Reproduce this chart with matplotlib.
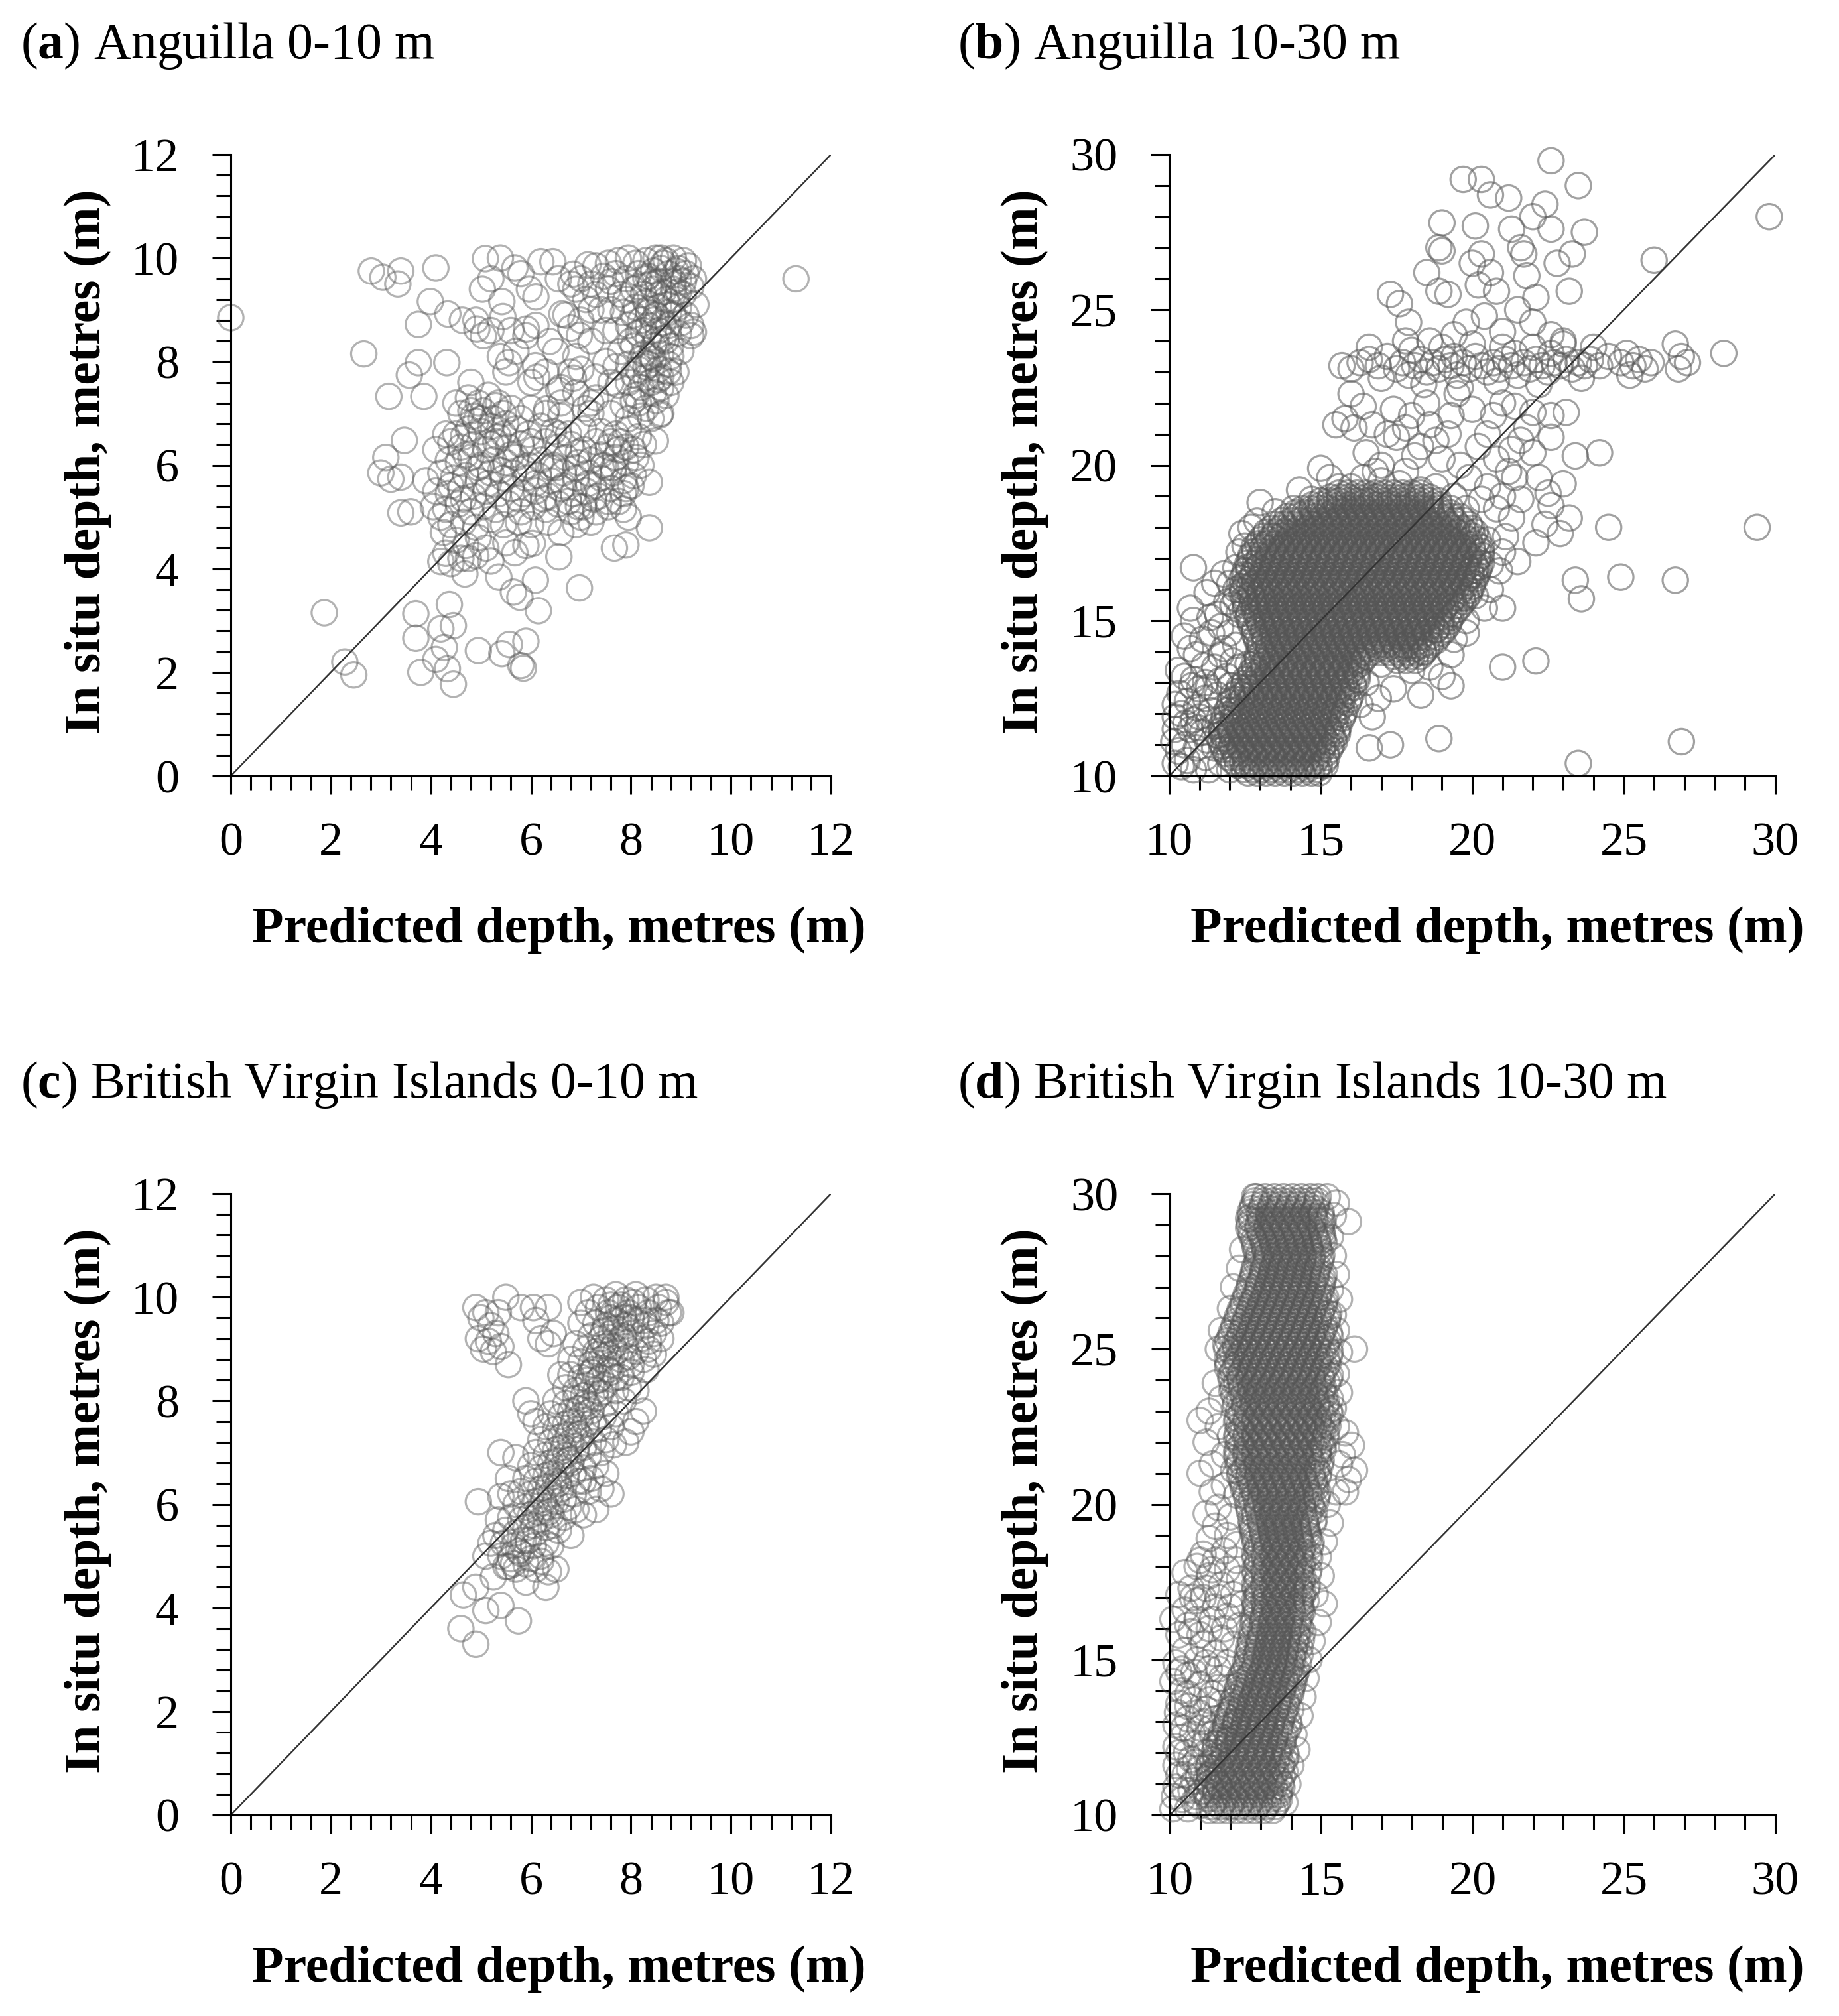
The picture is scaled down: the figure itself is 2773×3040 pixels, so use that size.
import numpy as np
import matplotlib
matplotlib.use("Agg")
import matplotlib.pyplot as plt
from matplotlib.ticker import MultipleLocator

plt.rcParams['font.family'] = ['Liberation Serif', 'DejaVu Serif']
plt.rcParams['mathtext.fontset'] = 'custom'
plt.rcParams['mathtext.rm'] = 'Liberation Serif'
plt.rcParams['mathtext.bf'] = 'Liberation Serif:bold'

# ---------------- data ----------------
TITLES = [r"($\mathbf{a}$) Anguilla 0-10 m", r"($\mathbf{b}$) Anguilla 10-30 m",
          r"($\mathbf{c}$) British Virgin Islands 0-10 m", r"($\mathbf{d}$) British Virgin Islands 10-30 m"]
XLABEL = "Predicted depth, metres (m)"
YLABEL = "In situ depth, metres (m)"
SHALLOW_TICKS = [0, 2, 4, 6, 8, 10, 12]
DEEP_TICKS = [10, 15, 20, 25, 30]

# Panel (a): Anguilla 0-10 m  (predicted, in situ)
A_POINTS = [
 (0.0,8.85),(11.3,9.6),(1.87,3.15),(2.28,2.2),(2.46,1.95),(2.66,8.15),(2.81,9.75),(3.04,9.63),(3.34,9.5),(3.4,9.75),
 (3.16,7.33),(3.57,7.74),(3.75,7.98),(3.86,7.33),(3.75,8.72),(4.1,9.81),(3.99,9.16),(4.32,7.98),(4.34,8.92),(4.63,8.8),
 (4.92,8.63),(5.05,8.5),(3.1,6.15),(3.0,5.85),(3.2,5.73),(3.4,5.77),(3.47,6.48),(3.4,5.08),(3.6,5.1),(3.7,3.13),
 (3.7,2.66),(3.8,2.0),(4.2,2.84),(4.27,2.48),(4.1,2.25),(4.33,2.07),(4.45,1.77),(4.37,3.31),(4.45,2.9),(4.95,2.42),
 (5.42,2.36),(5.57,2.54),(5.9,2.6),(5.8,2.13),(5.85,2.08),(5.36,3.84),(5.65,3.55),(5.78,3.45),(6.09,3.78),(6.15,3.19),
 (6.97,3.63),(6.03,4.49),(6.56,4.23),(5.68,4.31),(7.67,4.4),(7.9,4.46),(8.37,4.79),(8.37,5.67),(9.25,8.57),(8.58,6.97),
 (8.49,6.47),(4.2,4.14),(4.4,4.1),(4.68,3.9),(4.75,4.2),
 (5.09,9.99),(5.39,10.0),(5.2,9.6),(5.03,9.4),(5.42,9.16),(5.44,8.87),(5.6,8.6),(5.68,9.81),(5.8,9.7),(5.97,9.4),
 (6.1,9.25),(6.2,9.93),(6.44,9.93),(6.55,9.6),(5.91,8.63),(5.39,8.1),(5.56,7.98),(5.5,7.8),(6.09,7.92),(6.12,7.7),
 (6.38,8.39),(6.62,8.92),(6.8,8.65),(6.97,8.51),(6.85,7.68),(7.0,7.85),(6.56,7.45),(7.08,7.09),(7.2,7.2),(6.32,7.09),
 (6.85,9.69),(7.14,9.87),(5.2,8.6),(4.9,8.8),(5.7,8.2),(5.9,8.5),(6.1,8.7),(6.0,7.6),(6.3,7.8),(6.5,8.2),
 (6.6,7.5),(6.8,7.8),(6.9,8.1),(7.2,8.4),(7.3,7.7),(7.5,8.0),(7.6,7.6),(7.2,9.0),(7.0,8.8),(6.7,8.9),(7.5,8.6),
 # upper-right cluster
 (7.3,9.85),(7.55,9.9),(7.75,9.95),(7.95,10.0),(8.1,9.9),(8.3,9.95),(8.5,10.0),(8.7,9.95),(8.85,10.0),(9.05,9.95),
 (9.15,9.85),(8.95,9.8),(8.6,9.8),(7.0,9.6),(7.2,9.5),(7.45,9.65),(7.7,9.7),(7.9,9.6),(8.15,9.7),(8.35,9.65),
 (8.55,9.55),(8.75,9.7),(8.95,9.6),(9.1,9.7),(9.25,9.6),(8.45,9.75),(7.3,9.3),(7.55,9.4),(7.8,9.3),(8.05,9.4),
 (8.25,9.3),(8.45,9.4),(8.65,9.35),(8.85,9.4),(9.05,9.3),(9.2,9.45),(8.7,9.2),(8.3,9.15),(7.6,9.0),(7.85,8.95),
 (8.1,9.05),(8.35,8.95),(8.55,9.05),(8.75,8.95),(8.95,9.05),(9.1,8.9),(8.2,8.8),(8.45,8.8),(7.7,8.6),(7.95,8.7),
 (8.15,8.55),(8.35,8.7),(8.55,8.6),(8.75,8.7),(8.95,8.55),(9.2,8.5),(8.0,8.4),(7.8,8.2),(8.05,8.3),(8.25,8.15),
 (8.45,8.3),(8.6,8.15),(8.8,8.3),(9.0,8.2),(8.35,8.45),(8.65,8.45),(7.7,7.9),(7.95,7.95),(8.15,7.85),(8.35,7.95),
 (8.55,7.85),(8.75,7.95),(8.9,7.8),(8.45,8.05),(8.2,8.05),(7.75,7.55),(7.95,7.6),(8.2,7.5),(8.4,7.6),(8.6,7.5),
 (8.8,7.6),(8.3,7.7),(8.05,7.75),(7.85,7.15),(8.05,7.25),(8.3,7.1),(8.5,7.25),(8.6,7.0),(8.2,6.95),(7.95,6.9),
 (8.7,7.35),(9.3,9.1),(9.2,8.7),(9.0,8.75),(8.85,8.9),(7.6,9.55),(7.4,9.0),(7.1,9.2),(6.9,9.4),(6.8,9.5),
 (8.65,9.9),(8.4,9.5),(8.9,9.2),(8.5,8.9),(8.7,8.4),(8.4,8.1),(8.6,7.7),(8.1,7.35),(8.45,7.4),(8.85,9.55),
 (8.3,9.6),(8.55,9.3),(8.75,9.1),(8.95,9.35),(8.4,9.0),(8.65,8.75),(8.25,8.6),(8.5,8.4),(8.8,8.1),(8.3,7.9),
 (8.55,7.65),(8.75,7.8),(8.15,7.2),(8.4,6.9),(8.05,8.9),(8.9,9.75),(9.05,9.55),(8.6,10.0),(8.15,9.45),(7.9,9.2),
 # middle cluster
 (4.75,7.3),(4.95,7.2),(5.15,7.35),(5.3,7.15),(4.6,7.0),(4.85,6.95),(5.05,7.05),(5.25,6.9),(5.45,7.0),(6.0,7.1),
 (6.3,7.0),(6.6,6.95),(7.2,7.0),(4.5,6.6),(4.75,6.7),(5.0,6.65),(5.2,6.75),(5.45,6.6),(5.7,6.7),(5.95,6.6),
 (6.2,6.75),(6.45,6.65),(6.75,6.6),(7.05,6.7),(7.4,6.65),(7.7,6.6),(7.95,6.7),(8.15,6.55),(4.4,6.45),(4.6,6.35),
 (4.85,6.4),(5.1,6.3),(5.3,6.45),(5.55,6.35),(5.8,6.4),(6.05,6.3),(6.3,6.45),(6.55,6.35),(6.8,6.4),(7.05,6.3),
 (7.3,6.45),(7.55,6.35),(7.8,6.45),(8.05,6.3),(8.25,6.4),(4.35,6.1),(4.55,6.05),(4.8,6.15),(5.0,6.0),(5.25,6.1),
 (5.5,6.05),(5.7,6.15),(5.95,6.0),(6.2,6.1),(6.45,6.0),(6.7,6.15),(6.95,6.05),(7.2,6.1),(7.45,6.0),(7.7,6.15),
 (7.9,6.05),(8.1,6.15),(4.2,5.85),(4.45,5.75),(4.7,5.8),(4.95,5.7),(5.2,5.85),(5.45,5.75),(5.65,5.85),(5.9,5.75),
 (6.15,5.8),(6.4,5.7),(6.65,5.85),(6.9,5.75),(7.15,5.85),(7.4,5.75),(7.65,5.85),(7.85,5.7),(8.05,5.8),(8.2,6.0),
 (4.1,5.5),(4.35,5.45),(4.6,5.55),(4.85,5.4),(5.1,5.5),(5.35,5.45),(5.6,5.55),(5.85,5.45),(6.1,5.5),(6.35,5.4),
 (6.6,5.55),(6.85,5.45),(7.1,5.5),(7.35,5.4),(7.6,5.55),(7.85,5.45),(8.0,5.6),(4.05,5.2),(4.3,5.15),(4.55,5.25),
 (4.8,5.1),(5.05,5.2),(5.3,5.15),(5.55,5.25),(5.8,5.1),(6.05,5.2),(6.3,5.15),(6.55,5.25),(6.8,5.1),(7.05,5.2),
 (7.3,5.1),(7.55,5.2),(7.85,5.15),(7.95,5.0),(4.4,4.85),(4.65,4.9),(4.9,4.8),(5.2,4.95),(5.45,4.85),(5.75,4.9),
 (6.0,4.85),(6.35,4.9),(6.9,4.85),(7.2,4.9),(7.0,5.0),(4.5,4.55),(4.7,4.45),(4.95,4.6),(5.1,4.4),(5.5,4.5),
 (5.9,4.45),(6.6,4.7),(4.3,4.3),(4.6,4.2),(4.9,4.25),(5.2,4.15),(3.9,5.7),(4.1,6.3),(4.3,6.6),(4.5,7.2),
 (4.8,7.6),(5.6,7.1),(5.8,6.9),(6.6,7.2),(6.9,7.4),(7.3,7.3),(7.6,7.0),(4.2,5.0),(4.25,4.7),
 (7.5,5.95),(7.75,6.3),(7.25,5.6),(6.95,6.25),(7.55,5.3),(6.5,5.95),(5.35,6.55),(4.9,6.85),(4.7,6.2),(5.15,5.65),
 (5.6,6.2),(5.85,5.95),(6.1,5.65),(6.4,5.95),(6.65,5.6),(6.9,5.95),(7.15,5.65),(7.4,6.2),(7.65,5.95),(7.9,5.55),
 (5.4,5.9),(5.2,6.4),(5.0,6.9),(4.8,7.05),(5.35,7.2),(4.65,6.55),(4.95,5.95),(5.75,5.35),(6.25,5.35),(6.75,5.3),
 (7.25,5.35),(7.75,5.3),(6.0,6.45),(6.55,6.6),(7.6,6.45),(7.9,6.35),(4.4,5.6),(4.65,5.35),(5.5,6.8),(6.95,5.2),
]

# Panel (b): Anguilla 10-30 m, scattered points
B_POINTS = [
 (29.8,28.0),(22.6,29.8),(23.5,29.0),(19.7,29.2),(20.3,29.2),(20.6,28.7),(21.2,28.6),(22.4,28.4),(22.0,28.0),(22.6,27.6),
 (23.7,27.5),(19.0,27.8),(18.9,27.0),(19.0,26.9),(20.1,27.7),(20.3,26.8),(21.3,27.6),(21.6,27.0),(21.7,26.8),(22.8,26.5),
 (23.3,26.8),(18.5,26.2),(19.2,25.5),(18.9,25.6),(20.2,25.8),(20.6,26.2),(20.8,25.6),(21.5,25.0),(22.1,25.4),(23.2,25.6),
 (26.0,26.6),(17.3,25.5),(17.9,24.6),(17.6,25.2),(17.8,24.0),(16.6,23.8),(19.8,24.6),(20.4,24.8),(21.0,24.3),(22.0,24.6),
 (22.6,24.2),(23.0,24.0),(19.4,24.2),(18.6,24.0),(21.8,26.1),(20.0,26.5),
 (15.7,23.2),(16.0,23.1),(16.3,23.3),(16.6,23.4),(16.9,23.2),(17.2,23.5),(17.5,23.1),(17.7,23.3),(17.9,22.9),(18.1,23.2),
 (18.3,23.4),(18.5,23.0),(18.7,23.3),(18.9,23.1),(19.1,23.4),(19.3,23.2),(19.5,22.9),(19.7,23.3),(19.9,23.1),(20.1,23.5),
 (20.3,23.2),(20.5,23.0),(20.7,23.3),(20.9,23.1),(21.1,23.4),(21.3,23.2),(21.5,22.9),(21.7,23.3),(21.9,23.1),(22.1,23.4),
 (22.3,23.2),(22.5,23.0),(22.7,23.3),(22.9,23.2),(23.1,23.4),(23.3,23.1),(23.5,23.3),(23.7,23.2),(23.9,23.4),(24.2,23.2),
 (24.5,23.5),(24.9,23.3),(25.1,23.6),(25.3,23.2),(25.5,23.4),(25.7,23.1),(25.9,23.3),(26.7,23.9),(26.9,23.5),(27.1,23.3),
 (26.8,23.1),(28.3,23.6),(18.0,23.7),(19.0,23.8),(20.0,23.9),(21.0,23.8),(22.0,23.8),(23.0,23.9),(18.4,22.6),(19.6,22.5),
 (20.8,22.7),(22.2,22.6),(23.6,22.8),(24.0,23.8),(17.0,22.8),(25.2,22.9),(21.4,23.6),(19.4,23.5),(22.6,23.6),
 (15.5,21.3),(15.8,21.5),(16.1,21.2),(16.7,21.3),(17.2,21.0),(17.5,20.9),(17.8,21.2),(18.1,20.3),(18.0,21.6),(18.5,22.0),
 (19.3,21.6),(19.5,22.3),(20.0,21.8),(20.5,21.0),(21.0,22.0),(21.4,21.9),(22.0,21.7),(22.6,21.6),(23.1,21.7),(22.6,20.9),
 (23.4,20.3),(24.2,20.4),(22.0,20.4),(21.2,19.8),(22.5,19.1),(22.6,18.7),(23.2,18.3),(24.5,18.0),(22.9,17.8),(22.1,17.5),
 (21.1,17.7),(29.4,18.0),(24.9,16.4),(26.7,16.3),(23.4,16.3),(23.6,15.7),(21.0,15.4),(20.6,16.0),(20.1,15.8),(19.4,14.4),
 (19.8,15.0),(22.1,13.7),(21.0,13.5),(19.3,12.9),(17.4,12.8),(18.3,12.6),(18.0,13.4),(18.4,14.0),(17.8,14.2),(16.6,10.9),
 (17.3,11.0),(18.9,11.2),(23.5,10.4),(26.9,11.1),(16.3,12.3),(16.7,11.9),(16.5,13.0),(17.0,13.6),(16.9,12.5),
 (16.5,20.4),(17.0,20.0),(17.8,19.8),(18.3,20.6),(18.8,20.8),(19.0,20.2),(19.6,20.0),(20.2,20.6),(20.8,20.2),(21.6,20.8),
 (21.8,21.2),(19.2,21.0),(20.7,21.6),(21.3,20.5),(19.9,19.6),(20.5,19.3),(21.0,19.0),(21.4,19.6),(20.8,18.6),(21.3,18.3),
 (21.6,18.9),(21.0,17.2),(20.9,16.6),(21.5,16.9),(22.2,19.6),(22.4,18.1),(23.0,19.4),(17.4,21.8),(16.4,21.9),(16.0,22.3),
 (18.6,21.3),(19.8,18.6),(20.3,18.9),(20.5,17.6),(20.6,16.8),(20.4,15.4),(19.8,14.6),(19.3,13.9),(18.6,13.5),(18.8,14.7),
 (19.0,13.2),(12.9,18.2),(15.3,19.6),(15.6,19.3),(16.0,19.3),(16.4,19.6),(17.0,19.5),(18.3,19.2),(13.5,18.5),(14.1,18.6),
 (14.7,18.9),(12.5,17.4),(12.2,16.7),(12.0,16.2),(12.1,15.5),(13.0,18.8),(14.3,19.2),(16.8,19.8),(17.6,19.4),(18.8,19.3),
 (19.4,19.0),(15.0,19.9),
 (10.8,16.7),(10.7,15.4),(10.8,15.0),(10.7,14.1),(10.9,13.9),(10.5,14.5),(11.6,15.2),(11.9,15.6),(11.8,14.1),(11.4,14.6),
 (11.5,13.5),(11.9,13.2),(12.2,14.2),(11.2,13.0),(10.2,12.3),(10.2,11.5),(10.5,11.0),(10.8,11.8),(11.2,12.5),(11.5,11.6),
 (10.4,12.0),(10.6,12.4),(10.9,12.2),(11.1,11.4),(11.4,12.1),(10.3,10.8),(10.6,10.5),(10.9,10.9),(11.2,10.6),(11.5,10.9),
 (10.4,10.3),(10.8,10.2),(11.3,10.2),(11.7,10.4),(12.0,10.2),(10.2,11.9),(10.7,11.5),(11.0,11.9),(11.3,11.8),(11.6,12.6),
 (11.0,12.8),(10.5,13.2),(10.3,13.4),(10.8,13.1),(11.7,14.8),(12.3,15.2),(12.6,13.6),(12.3,13.5),(12.0,12.9),(11.5,16.2),
 (12.4,17.8),(12.7,18.0),(11.1,14.4),(10.2,10.4),(12.2,16.0),
 (10.15,11.1),(10.55,11.7),(10.95,11.55),(11.25,11.15),(11.6,11.3),(10.35,12.65),(10.75,12.9),(11.3,12.85),(11.65,13.05),
 (11.15,13.55),(11.7,13.9),(12.1,13.7),(12.0,14.6),(11.35,15.1),(12.2,15.7),(11.8,16.5),(12.3,17.2),(11.25,15.9),
]

# Panel (b): dense core, rows of in-situ depth with predicted depths
B_CORE_Y = [10.1, 10.35, 10.6, 10.85, 11.1, 11.35, 11.6, 11.85, 12.1, 12.35, 12.6, 12.85, 13.1,
            13.35, 13.6, 13.85, 14.1, 14.35, 14.6, 14.85, 15.1, 15.35, 15.6, 15.85, 16.1, 16.35,
            16.6, 16.85, 17.1, 17.35, 17.6, 17.85, 18.1, 18.35, 18.6, 18.85, 19.1]
B_CORE_X = [
 [12.6,12.9,13.2,13.5,13.8,14.1,14.4,14.7,14.95],
 [12.25,12.55,12.85,13.15,13.45,13.75,14.05,14.35,14.65,14.95,15.15],
 [11.95,12.2,12.5,12.8,13.1,13.4,13.7,14.0,14.3,14.6,14.9,15.2],
 [11.8,12.1,12.35,12.65,12.95,13.25,13.55,13.85,14.15,14.45,14.75,15.05,15.3],
 [11.7,11.95,12.25,12.55,12.85,13.15,13.45,13.75,14.05,14.35,14.65,14.95,15.2,15.45],
 [11.75,12.05,12.35,12.65,12.95,13.25,13.55,13.85,14.15,14.45,14.75,15.05,15.35,15.55],
 [11.7,12.0,12.25,12.55,12.85,13.15,13.45,13.75,14.05,14.35,14.65,14.95,15.25,15.6],
 [11.8,12.1,12.4,12.7,13.0,13.3,13.6,13.9,14.2,14.5,14.8,15.1,15.4,15.7],
 [11.9,12.15,12.45,12.75,13.05,13.35,13.65,13.95,14.25,14.55,14.85,15.15,15.45,15.8],
 [12.0,12.3,12.6,12.9,13.2,13.5,13.8,14.1,14.4,14.7,15.0,15.3,15.6,15.9],
 [12.1,12.4,12.7,13.0,13.3,13.6,13.9,14.2,14.5,14.8,15.1,15.4,15.7,16.0],
 [12.3,12.55,12.85,13.15,13.45,13.75,14.05,14.35,14.65,14.95,15.25,15.55,15.85,16.1],
 [12.5,12.8,13.1,13.4,13.7,14.0,14.3,14.6,14.9,15.2,15.5,15.8,16.2],
 [12.7,12.95,13.25,13.55,13.85,14.15,14.45,14.75,15.05,15.35,15.65,15.95,16.2],
 [12.8,13.1,13.4,13.7,14.0,14.3,14.6,14.9,15.2,15.5,15.8,16.05,16.3],
 [12.9,13.2,13.5,13.8,14.1,14.4,14.7,15.0,15.3,15.6,15.9,16.2,16.5,17.4,17.7,18.0,18.3],
 [13.0,13.3,13.6,13.9,14.2,14.5,14.8,15.1,15.4,15.7,16.0,16.3,16.6,16.9,17.2,17.5,17.8,18.1,18.5],
 [12.9,13.15,13.45,13.75,14.05,14.35,14.65,14.95,15.25,15.55,15.85,16.15,16.45,16.75,17.05,17.35,17.65,17.95,18.25,18.8],
 [12.8,13.1,13.4,13.7,14.0,14.3,14.6,14.9,15.2,15.5,15.8,16.1,16.4,16.7,17.0,17.3,17.6,17.9,18.2,18.5,19.0],
 [12.7,13.0,13.25,13.55,13.85,14.15,14.45,14.75,15.05,15.35,15.65,15.95,16.25,16.55,16.85,17.15,17.45,17.75,18.05,18.35,18.65,18.95,19.2],
 [12.6,12.9,13.2,13.5,13.8,14.1,14.4,14.7,15.0,15.3,15.6,15.9,16.2,16.5,16.8,17.1,17.4,17.7,18.0,18.3,18.6,18.9,19.3],
 [12.5,12.8,13.05,13.35,13.65,13.95,14.25,14.55,14.85,15.15,15.45,15.75,16.05,16.35,16.65,16.95,17.25,17.55,17.85,18.15,18.45,18.75,19.05,19.5],
 [12.5,12.75,13.0,13.3,13.6,13.9,14.2,14.5,14.8,15.1,15.4,15.7,16.0,16.3,16.6,16.9,17.2,17.5,17.8,18.1,18.4,18.7,19.0,19.3,19.7],
 [12.4,12.7,12.95,13.25,13.55,13.85,14.15,14.45,14.75,15.05,15.35,15.65,15.95,16.25,16.55,16.85,17.15,17.45,17.75,18.05,18.35,18.65,18.95,19.25,19.55,19.9],
 [12.4,12.65,12.9,13.2,13.5,13.8,14.1,14.4,14.7,15.0,15.3,15.6,15.9,16.2,16.5,16.8,17.1,17.4,17.7,18.0,18.3,18.6,18.9,19.2,19.5,19.75,20.0],
 [12.4,12.7,13.0,13.3,13.6,13.9,14.2,14.5,14.8,15.1,15.4,15.7,16.0,16.3,16.6,16.9,17.2,17.5,17.8,18.1,18.4,18.7,19.0,19.3,19.6,19.85,20.1],
 [12.5,12.8,13.1,13.4,13.7,14.0,14.3,14.6,14.9,15.2,15.5,15.8,16.1,16.4,16.7,17.0,17.3,17.6,17.9,18.2,18.5,18.8,19.1,19.4,19.7,19.95,20.2],
 [12.6,12.85,13.15,13.45,13.75,14.05,14.35,14.65,14.95,15.25,15.55,15.85,16.15,16.45,16.75,17.05,17.35,17.65,17.95,18.25,18.55,18.85,19.15,19.45,19.75,20.05,20.3],
 [12.7,13.0,13.3,13.6,13.9,14.2,14.5,14.8,15.1,15.4,15.7,16.0,16.3,16.6,16.9,17.2,17.5,17.8,18.1,18.4,18.7,19.0,19.3,19.6,19.9,20.3],
 [12.8,13.1,13.4,13.7,14.0,14.3,14.6,14.9,15.2,15.5,15.8,16.1,16.4,16.7,17.0,17.3,17.6,17.9,18.2,18.5,18.8,19.1,19.4,19.7,20.0,20.3],
 [13.0,13.3,13.6,13.9,14.2,14.5,14.8,15.1,15.4,15.7,16.0,16.3,16.6,16.9,17.2,17.5,17.8,18.1,18.4,18.7,19.0,19.3,19.6,19.9,20.2],
 [13.2,13.5,13.8,14.1,14.4,14.7,15.0,15.3,15.6,15.9,16.2,16.5,16.8,17.1,17.4,17.7,18.0,18.3,18.6,18.9,19.2,19.5,19.8,20.1],
 [13.5,13.8,14.1,14.4,14.7,15.0,15.3,15.6,15.9,16.2,16.5,16.8,17.1,17.4,17.7,18.0,18.3,18.6,18.9,19.2,19.5,19.9],
 [13.9,14.2,14.5,14.8,15.1,15.4,15.7,16.0,16.3,16.6,16.9,17.2,17.5,17.8,18.1,18.4,18.7,19.0,19.3,19.6],
 [14.4,14.7,15.0,15.3,15.6,15.9,16.2,16.5,16.8,17.1,17.4,17.7,18.0,18.3,18.6,18.9,19.3],
 [15.0,15.3,15.6,15.9,16.2,16.5,16.8,17.1,17.4,17.7,18.0,18.3,18.6,18.9],
 [15.6,15.9,16.2,16.5,16.8,17.1,17.4,17.7,18.0,18.3],
]
B_CORE2_Y = [10.22, 10.47, 10.72, 10.97, 11.22, 11.47, 11.72, 11.97, 12.22, 12.47, 12.72, 12.97,
             13.22, 13.47, 13.72, 13.97, 14.22, 14.47, 14.72, 14.97, 15.22, 15.47, 15.72, 15.97,
             16.22, 16.47, 16.72, 16.97, 17.22, 17.47, 17.72, 17.97, 18.22, 18.47, 18.72, 18.97]
B_CORE2_X = [
 [12.47,12.77,13.07,13.37,13.67,13.97,14.27,14.57,14.87],
 [12.12,12.42,12.72,13.02,13.32,13.62,13.92,14.22,14.52,14.82,15.12],
 [11.88,12.18,12.48,12.78,13.08,13.38,13.68,13.98,14.28,14.58,14.88,15.18],
 [11.77,12.07,12.37,12.67,12.97,13.27,13.57,13.87,14.17,14.47,14.77,15.07,15.35],
 [11.82,12.12,12.42,12.72,13.02,13.32,13.62,13.92,14.22,14.52,14.82,15.12,15.42],
 [11.72,12.02,12.32,12.62,12.92,13.22,13.52,13.82,14.12,14.42,14.72,15.02,15.32,15.55],
 [11.87,12.17,12.47,12.77,13.07,13.37,13.67,13.97,14.27,14.57,14.87,15.17,15.47],
 [11.92,12.22,12.52,12.82,13.12,13.42,13.72,14.02,14.32,14.62,14.92,15.22,15.52,15.75],
 [12.07,12.37,12.67,12.97,13.27,13.57,13.87,14.17,14.47,14.77,15.07,15.37,15.67],
 [12.12,12.42,12.72,13.02,13.32,13.62,13.92,14.22,14.52,14.82,15.12,15.42,15.72,15.95],
 [12.27,12.57,12.87,13.17,13.47,13.77,14.07,14.37,14.67,14.97,15.27,15.57,15.87],
 [12.47,12.77,13.07,13.37,13.67,13.97,14.27,14.57,14.87,15.17,15.47,15.77,16.07],
 [12.67,12.97,13.27,13.57,13.87,14.17,14.47,14.77,15.07,15.37,15.67,15.97,16.2],
 [12.82,13.12,13.42,13.72,14.02,14.32,14.62,14.92,15.22,15.52,15.82,16.12],
 [12.92,13.22,13.52,13.82,14.12,14.42,14.72,15.02,15.32,15.62,15.92,16.22,16.4,17.52,17.82,18.12],
 [13.07,13.37,13.67,13.97,14.27,14.57,14.87,15.17,15.47,15.77,16.07,16.37,16.67,16.97,17.27,17.57,17.87,18.17,18.4],
 [12.97,13.27,13.57,13.87,14.17,14.47,14.77,15.07,15.37,15.67,15.97,16.27,16.57,16.87,17.17,17.47,17.77,18.07,18.37,18.62],
 [12.87,13.17,13.47,13.77,14.07,14.37,14.67,14.97,15.27,15.57,15.87,16.17,16.47,16.77,17.07,17.37,17.67,17.97,18.27,18.57,18.87],
 [12.82,13.12,13.42,13.72,14.02,14.32,14.62,14.92,15.22,15.52,15.82,16.12,16.42,16.72,17.02,17.32,17.62,17.92,18.22,18.52,18.82,19.1],
 [12.67,12.97,13.27,13.57,13.87,14.17,14.47,14.77,15.07,15.37,15.67,15.97,16.27,16.57,16.87,17.17,17.47,17.77,18.07,18.37,18.67,18.97,19.25],
 [12.62,12.92,13.22,13.52,13.82,14.12,14.42,14.72,15.02,15.32,15.62,15.92,16.22,16.52,16.82,17.12,17.42,17.72,18.02,18.32,18.62,18.92,19.22,19.4],
 [12.52,12.82,13.12,13.42,13.72,14.02,14.32,14.62,14.92,15.22,15.52,15.82,16.12,16.42,16.72,17.02,17.32,17.62,17.92,18.22,18.52,18.82,19.12,19.42,19.6],
 [12.47,12.77,13.07,13.37,13.67,13.97,14.27,14.57,14.87,15.17,15.47,15.77,16.07,16.37,16.67,16.97,17.27,17.57,17.87,18.17,18.47,18.77,19.07,19.37,19.67,19.8],
 [12.42,12.72,13.02,13.32,13.62,13.92,14.22,14.52,14.82,15.12,15.42,15.72,16.02,16.32,16.62,16.92,17.22,17.52,17.82,18.12,18.42,18.72,19.02,19.32,19.62,19.92],
 [12.52,12.82,13.12,13.42,13.72,14.02,14.32,14.62,14.92,15.22,15.52,15.82,16.12,16.42,16.72,17.02,17.32,17.62,17.92,18.22,18.52,18.82,19.12,19.42,19.72,20.02],
 [12.47,12.77,13.07,13.37,13.67,13.97,14.27,14.57,14.87,15.17,15.47,15.77,16.07,16.37,16.67,16.97,17.27,17.57,17.87,18.17,18.47,18.77,19.07,19.37,19.67,19.97,20.15],
 [12.62,12.92,13.22,13.52,13.82,14.12,14.42,14.72,15.02,15.32,15.62,15.92,16.22,16.52,16.82,17.12,17.42,17.72,18.02,18.32,18.62,18.92,19.22,19.52,19.82,20.12,20.25],
 [12.67,12.97,13.27,13.57,13.87,14.17,14.47,14.77,15.07,15.37,15.67,15.97,16.27,16.57,16.87,17.17,17.47,17.77,18.07,18.37,18.67,18.97,19.27,19.57,19.87,20.17],
 [12.82,13.12,13.42,13.72,14.02,14.32,14.62,14.92,15.22,15.52,15.82,16.12,16.42,16.72,17.02,17.32,17.62,17.92,18.22,18.52,18.82,19.12,19.42,19.72,20.02,20.3],
 [12.92,13.22,13.52,13.82,14.12,14.42,14.72,15.02,15.32,15.62,15.92,16.22,16.52,16.82,17.12,17.42,17.72,18.02,18.32,18.62,18.92,19.22,19.52,19.82,20.12],
 [13.12,13.42,13.72,14.02,14.32,14.62,14.92,15.22,15.52,15.82,16.12,16.42,16.72,17.02,17.32,17.62,17.92,18.22,18.52,18.82,19.12,19.42,19.72,20.02],
 [13.37,13.67,13.97,14.27,14.57,14.87,15.17,15.47,15.77,16.07,16.37,16.67,16.97,17.27,17.57,17.87,18.17,18.47,18.77,19.07,19.37,19.67,19.97],
 [13.72,14.02,14.32,14.62,14.92,15.22,15.52,15.82,16.12,16.42,16.72,17.02,17.32,17.62,17.92,18.22,18.52,18.82,19.12,19.42,19.72],
 [14.17,14.47,14.77,15.07,15.37,15.67,15.97,16.27,16.57,16.87,17.17,17.47,17.77,18.07,18.37,18.67,18.97,19.27],
 [14.72,15.02,15.32,15.62,15.92,16.22,16.52,16.82,17.12,17.42,17.72,18.02,18.32,18.62,18.92],
 [15.32,15.62,15.92,16.22,16.52,16.82,17.12,17.42,17.72,18.02,18.32,18.6],
]

# Panel (c): British Virgin Islands 0-10 m
C_POINTS = [
 (7.0,9.9),(7.25,10.0),(7.5,9.95),(7.7,10.05),(7.9,9.95),(8.1,10.05),(8.3,9.95),(8.5,10.0),(8.7,9.9),
 (7.15,9.7),(7.35,9.8),(7.55,9.7),(7.75,9.8),(7.95,9.7),(8.15,9.8),(8.35,9.7),(8.55,9.8),(8.8,9.7),
 (7.3,9.5),(7.5,9.45),(7.7,9.55),(7.9,9.45),(8.1,9.55),(8.3,9.45),(8.5,9.55),
 (7.2,9.25),(7.4,9.2),(7.6,9.3),(7.8,9.2),(8.0,9.3),(8.2,9.2),(8.45,9.3),
 (7.1,9.0),(7.3,8.95),(7.5,9.05),(7.7,8.95),(7.9,9.05),(8.1,8.95),(8.35,9.0),
 (7.0,8.75),(7.2,8.7),(7.4,8.8),(7.6,8.7),(7.8,8.8),(8.0,8.7),(8.25,8.8),
 (6.8,8.5),(7.0,8.45),(7.2,8.55),(7.4,8.45),(7.6,8.55),(7.8,8.45),(8.0,8.55),
 (6.7,8.25),(6.9,8.2),(7.1,8.3),(7.3,8.2),(7.5,8.3),(7.7,8.2),(7.95,8.25),
 (6.5,8.0),(6.7,7.95),(6.9,8.05),(7.1,7.95),(7.3,8.05),(7.5,7.95),(7.85,8.0),
 (6.4,7.75),(6.6,7.7),(6.8,7.8),(7.0,7.7),(7.2,7.8),(7.45,7.7),(7.7,7.75),
 (6.3,7.5),(6.5,7.45),(6.7,7.55),(6.9,7.45),(7.1,7.55),(7.35,7.45),(7.6,7.5),
 (6.2,7.25),(6.4,7.2),(6.6,7.3),(6.8,7.2),(7.0,7.3),(7.25,7.2),(7.5,7.25),
 (6.1,7.0),(6.3,6.95),(6.5,7.05),(6.7,6.95),(6.9,7.05),(7.15,6.95),(7.4,7.0),
 (6.0,6.75),(6.2,6.7),(6.4,6.8),(6.6,6.7),(6.8,6.8),(7.05,6.7),(7.3,6.75),
 (5.9,6.5),(6.1,6.45),(6.3,6.55),(6.5,6.45),(6.7,6.55),(6.95,6.45),(7.2,6.5),
 (5.8,6.25),(6.0,6.2),(6.2,6.3),(6.4,6.2),(6.6,6.3),(6.85,6.2),(7.15,6.25),
 (5.7,6.0),(5.9,5.95),(6.1,6.05),(6.3,5.95),(6.5,6.05),(6.75,5.95),
 (5.6,5.75),(5.8,5.7),(6.0,5.8),(6.2,5.7),(6.4,5.8),(6.65,5.75),
 (5.5,5.5),(5.7,5.45),(5.9,5.55),(6.1,5.45),(6.3,5.55),(6.55,5.5),
 (5.45,5.25),(5.65,5.2),(5.85,5.3),(6.05,5.2),(6.3,5.25),
 (5.4,5.0),(5.6,4.95),(5.8,5.05),(6.0,4.95),(6.2,5.0),
 (5.5,4.8),(5.7,4.75),(5.9,4.85),(6.1,4.75),
 (7.6,9.85),(7.85,9.6),(8.05,9.9),(7.45,9.1),(7.7,9.4),(7.25,8.6),(7.55,8.9),(7.05,8.1),(7.35,8.4),(6.85,7.6),
 (7.15,7.9),(6.65,7.1),(6.95,7.35),(6.45,6.6),(6.75,6.85),(6.25,6.1),(6.55,6.4),(6.05,5.6),(6.35,5.85),(5.75,5.1),
 (7.6,9.6),(7.85,9.25),(8.0,9.6),(7.45,9.35),(7.65,9.05),(7.35,8.9),(7.55,8.6),(7.15,8.4),(7.4,8.15),(6.95,7.85),
 (7.25,7.6),(6.75,7.35),(7.05,7.1),(6.55,6.85),(6.85,6.6),(6.35,6.35),(6.65,6.1),(6.15,5.85),(6.45,5.6),(5.95,5.3),
 (7.8,9.85),(8.25,9.55),(7.95,8.85),(7.7,8.45),
 (4.9,9.8),(5.5,10.0),(5.2,9.45),(5.15,9.15),(5.4,9.05),(5.55,8.7),(5.05,9.0),(5.3,9.3),(6.05,9.8),(6.35,9.8),
 (5.8,9.8),(6.35,9.1),(6.2,9.2),(6.45,9.3),(5.0,9.6),(4.95,9.2),(5.25,8.95),(5.1,9.7),(5.35,9.7),(6.1,9.55),
 (4.6,3.6),(4.9,3.3),(4.65,4.25),(4.9,4.4),(5.1,3.95),(5.4,4.05),(5.75,3.75),(6.3,4.4),(6.5,4.75),(4.95,6.05),
 (5.2,5.25),(6.35,4.7),(5.55,4.8),(5.65,4.85),(7.65,7.15),(7.4,6.3),(7.3,5.9),(7.05,5.8),(7.05,6.45),(8.7,10.0),
 (8.75,9.7),(8.35,9.15),(8.45,8.9),(8.25,7.8),(8.1,7.6),(5.9,8.0),(6.0,7.75),(6.1,7.6),(5.4,7.0),(5.7,6.9),
 (5.55,6.5),(5.4,6.15),(5.6,6.2),(5.35,5.7),(5.3,5.4),(5.1,5.0),(5.25,4.6),(6.4,5.2),(6.8,5.4),(6.9,5.9),
 (7.5,6.6),(7.6,6.2),(8.1,8.2),(8.3,8.6),(8.6,9.2),(8.6,9.5),(6.6,8.5),(6.8,8.8),(6.9,9.1),(7.0,9.5),
 (6.2,4.9),(5.9,4.5),(7.9,7.2),(8.0,7.4),
]

# Panel (d): British Virgin Islands 10-30 m, scattered points
D_POINTS = [
 (10.1,10.2),(10.4,10.5),(10.2,10.9),(10.6,10.2),(10.9,10.6),(10.5,11.3),(10.2,11.6),(10.8,11.1),(11.0,10.3),(10.3,12.0),
 (10.7,11.8),(11.0,11.5),(10.4,12.5),(10.9,12.3),(11.2,12.0),(10.2,12.9),(10.6,13.1),(11.0,12.8),(11.4,12.6),(10.3,13.6),
 (10.1,14.3),(10.4,14.0),(10.8,13.7),(11.2,13.4),(11.5,13.1),(10.6,14.5),(10.2,14.9),(11.0,14.2),(11.4,13.9),(11.7,13.6),
 (10.5,15.3),(10.9,15.0),(11.3,14.7),(11.7,14.4),(12.0,14.1),(10.3,15.8),(10.7,15.9),(11.1,15.5),(11.5,15.2),(11.9,14.9),
 (10.1,16.3),(10.5,16.6),(10.9,16.3),(11.3,16.0),(11.7,15.7),(12.1,15.5),(10.3,17.1),(10.7,17.3),(11.1,17.0),(11.5,16.7),
 (11.9,16.4),(12.3,16.1),(10.5,17.8),(10.9,18.0),(11.3,17.7),(11.7,17.4),(12.1,17.1),(12.4,16.8),(11.1,18.4),(11.5,18.2),
 (11.9,17.9),(12.3,17.6),(10.3,14.6),(10.6,13.9),(11.3,11.3),(11.6,11.0),(10.7,10.8),(11.9,12.4),(12.2,13.0),(11.8,13.2),
 (11.5,12.3),(10.9,16.9),(11.3,18.9),
 (10.15,10.6),(10.5,10.8),(10.8,10.45),(11.05,10.75),(10.3,11.3),(10.65,11.5),(10.95,11.25),(10.2,12.2),(10.55,12.0),
 (10.85,11.7),(11.15,12.3),(10.45,12.8),(10.75,12.6),(11.1,13.0),(11.35,12.8),(10.25,13.3),(10.6,13.5),(10.95,13.3),
 (11.3,13.7),(11.6,14.1),(10.4,14.7),(10.8,14.6),(11.2,14.9),(11.6,14.7),(10.6,16.1),(11.0,15.8),(11.4,16.3),(11.8,16.0),
 (10.75,17.0),(11.2,17.3),(11.6,17.0),(12.0,16.7),(11.0,18.2),(11.4,17.9),(11.8,18.5),(12.2,18.2),
 (11.5,19.3),(11.9,19.0),(12.2,18.7),(11.2,19.7),(11.6,19.9),(12.0,19.6),(11.4,20.4),(11.8,20.6),(12.2,20.3),(11.0,21.0),
 (11.4,21.3),(11.8,21.6),(12.1,21.1),(11.2,22.0),(11.6,22.5),(12.0,22.2),(11.0,22.7),(11.3,23.0),(11.7,23.4),(11.5,23.9),
 (11.9,24.4),(11.6,25.0),(11.7,25.6),(12.0,26.3),(12.1,27.0),(12.3,27.6),(12.4,28.2),(12.6,29.2),(12.8,29.9),
 (15.2,29.9),(15.5,29.7),(15.4,29.3),(15.9,29.1),(15.3,28.6),(15.4,28.0),(15.5,27.4),(15.3,26.9),(15.6,26.6),(15.4,26.1),
 (15.5,25.6),(16.1,25.0),(15.6,24.9),(15.5,24.2),(15.6,23.6),(15.4,23.1),(15.5,22.5),(15.8,22.3),(16.0,21.9),(15.7,21.6),
 (16.1,21.1),(15.9,20.8),(15.5,20.4),(15.2,20.0),(15.3,19.4),(15.1,18.8),(14.9,18.3),(15.0,17.7),(14.8,17.1),(15.1,16.8),
 (14.9,16.2),(14.7,15.6),(14.6,15.0),(14.5,14.4),(14.4,13.8),(14.3,13.2),(14.1,12.6),(14.2,12.1),(14.0,11.6),(13.9,11.0),
 (13.8,10.4),(15.6,21.3),(15.8,20.4),
]

# Panel (d): dense core rows
D_CORE_Y = [10.15, 10.4, 10.65, 10.9, 11.15, 11.4, 11.65, 11.9, 12.15, 12.4, 12.65, 12.9, 13.15, 13.4,
            13.65, 13.9, 14.15, 14.4, 14.65, 14.9, 15.15, 15.4, 15.65, 15.9, 16.15, 16.4, 16.65, 16.9,
            17.15, 17.4, 17.65, 17.9, 18.15, 18.4, 18.65, 18.9, 19.15, 19.4, 19.65, 19.9, 20.15, 20.4,
            20.65, 20.9, 21.15, 21.4, 21.65, 21.9, 22.15, 22.4, 22.65, 22.9, 23.15, 23.4, 23.65, 23.9,
            24.15, 24.4, 24.65, 24.9, 25.15, 25.4, 25.65, 25.9, 26.15, 26.4, 26.65, 26.9, 27.15, 27.4,
            27.65, 27.9, 28.15, 28.4, 28.65, 28.9, 29.15, 29.4, 29.65, 29.9]
D_CORE_X = [
 [11.3,11.6,11.9,12.2,12.5,12.8,13.1,13.4],
 [11.45,11.75,12.05,12.35,12.65,12.95,13.25,13.55],
 [11.2,11.5,11.8,12.1,12.4,12.7,13.0,13.3,13.6],
 [11.35,11.65,11.95,12.25,12.55,12.85,13.15,13.45,13.7],
 [11.2,11.5,11.8,12.1,12.4,12.7,13.0,13.3,13.6],
 [11.4,11.7,12.0,12.3,12.6,12.9,13.2,13.5,13.8],
 [11.3,11.6,11.9,12.2,12.5,12.8,13.1,13.4,13.7],
 [11.5,11.8,12.1,12.4,12.7,13.0,13.3,13.6,13.85],
 [11.5,11.8,12.1,12.4,12.7,13.0,13.3,13.6],
 [11.65,11.95,12.25,12.55,12.85,13.15,13.45,13.75],
 [11.7,12.0,12.3,12.6,12.9,13.2,13.5,13.8],
 [11.85,12.15,12.45,12.75,13.05,13.35,13.65,13.95],
 [11.9,12.2,12.5,12.8,13.1,13.4,13.7],
 [12.0,12.3,12.6,12.9,13.2,13.5,13.8,14.0],
 [12.05,12.35,12.65,12.95,13.25,13.55,13.85],
 [12.2,12.5,12.8,13.1,13.4,13.7,14.0],
 [12.25,12.55,12.85,13.15,13.45,13.75,14.05],
 [12.3,12.6,12.9,13.2,13.5,13.8,14.1],
 [12.45,12.75,13.05,13.35,13.65,13.95,14.2],
 [12.5,12.8,13.1,13.4,13.7,14.0,14.25],
 [12.55,12.85,13.15,13.45,13.75,14.05,14.3],
 [12.6,12.9,13.2,13.5,13.8,14.1,14.3],
 [12.65,12.95,13.25,13.55,13.85,14.15,14.35],
 [12.7,13.0,13.3,13.6,13.9,14.2,14.4],
 [12.75,13.05,13.35,13.65,13.95,14.25],
 [12.8,13.1,13.4,13.7,14.0,14.3],
 [12.85,13.15,13.45,13.75,14.05,14.35],
 [12.8,13.1,13.4,13.7,14.0,14.3,14.5],
 [12.9,13.2,13.5,13.8,14.1,14.4],
 [12.8,13.1,13.4,13.7,14.0,14.3,14.55],
 [12.9,13.2,13.5,13.8,14.1,14.4],
 [12.8,13.1,13.4,13.7,14.0,14.3,14.6],
 [12.9,13.2,13.5,13.8,14.1,14.4],
 [12.8,13.1,13.4,13.7,14.0,14.3,14.6],
 [12.9,13.2,13.5,13.8,14.1,14.4,14.65],
 [12.8,13.1,13.4,13.7,14.0,14.3,14.6],
 [12.75,13.05,13.35,13.65,13.95,14.25,14.55],
 [12.7,13.0,13.3,13.6,13.9,14.2,14.5,14.75],
 [12.8,13.1,13.4,13.7,14.0,14.3,14.6],
 [12.6,12.9,13.2,13.5,13.8,14.1,14.4,14.7],
 [12.7,13.0,13.3,13.6,13.9,14.2,14.5,14.85],
 [12.5,12.8,13.1,13.4,13.7,14.0,14.3,14.6,14.9],
 [12.4,12.7,13.0,13.3,13.6,13.9,14.2,14.5,14.8],
 [12.3,12.6,12.9,13.2,13.5,13.8,14.1,14.4,14.7,14.9],
 [12.45,12.75,13.05,13.35,13.65,13.95,14.25,14.55,14.85],
 [12.3,12.6,12.9,13.2,13.5,13.8,14.1,14.4,14.7,15.0],
 [12.2,12.5,12.8,13.1,13.4,13.7,14.0,14.3,14.6,14.9],
 [12.35,12.65,12.95,13.25,13.55,13.85,14.15,14.45,14.75,15.05],
 [12.2,12.5,12.8,13.1,13.4,13.7,14.0,14.3,14.6,14.9,15.15],
 [12.35,12.65,12.95,13.25,13.55,13.85,14.15,14.45,14.75,15.05],
 [12.2,12.5,12.8,13.1,13.4,13.7,14.0,14.3,14.6,14.9,15.2],
 [12.35,12.65,12.95,13.25,13.55,13.85,14.15,14.45,14.75,15.05,15.3],
 [12.15,12.45,12.75,13.05,13.35,13.65,13.95,14.25,14.55,14.85,15.15],
 [12.3,12.6,12.9,13.2,13.5,13.8,14.1,14.4,14.7,15.0,15.3],
 [12.05,12.35,12.65,12.95,13.25,13.55,13.85,14.15,14.45,14.75,15.05],
 [12.2,12.5,12.8,13.1,13.4,13.7,14.0,14.3,14.6,14.9,15.2],
 [12.0,12.3,12.6,12.9,13.2,13.5,13.8,14.1,14.4,14.7,15.0,15.3],
 [12.15,12.45,12.75,13.05,13.35,13.65,13.95,14.25,14.55,14.85,15.15],
 [11.9,12.2,12.5,12.8,13.1,13.4,13.7,14.0,14.3,14.6,14.9,15.2],
 [12.05,12.35,12.65,12.95,13.25,13.55,13.85,14.15,14.45,14.75,15.05,15.3],
 [11.85,12.15,12.45,12.75,13.05,13.35,13.65,13.95,14.25,14.55,14.85,15.15],
 [12.0,12.3,12.6,12.9,13.2,13.5,13.8,14.1,14.4,14.7,15.0,15.3],
 [12.1,12.4,12.7,13.0,13.3,13.6,13.9,14.2,14.5,14.8,15.1],
 [12.2,12.5,12.8,13.1,13.4,13.7,14.0,14.3,14.6,14.9,15.2],
 [12.3,12.6,12.9,13.2,13.5,13.8,14.1,14.4,14.7,15.0,15.25],
 [12.4,12.7,13.0,13.3,13.6,13.9,14.2,14.5,14.8,15.1],
 [12.5,12.8,13.1,13.4,13.7,14.0,14.3,14.6,14.9,15.15],
 [12.6,12.9,13.2,13.5,13.8,14.1,14.4,14.7,15.0],
 [12.65,12.95,13.25,13.55,13.85,14.15,14.45,14.75,15.05],
 [12.75,13.05,13.35,13.65,13.95,14.25,14.55,14.85,15.1],
 [12.8,13.1,13.4,13.7,14.0,14.3,14.6,14.9],
 [12.9,13.2,13.5,13.8,14.1,14.4,14.7,15.0],
 [12.85,13.15,13.45,13.75,14.05,14.35,14.65,14.95],
 [12.8,13.1,13.4,13.7,14.0,14.3,14.6,14.9,15.1],
 [12.7,13.0,13.3,13.6,13.9,14.2,14.5,14.8,15.05],
 [12.6,12.9,13.2,13.5,13.8,14.1,14.4,14.7,15.0],
 [12.7,13.0,13.3,13.6,13.9,14.2,14.5,14.8,15.05],
 [12.65,12.95,13.25,13.55,13.85,14.15,14.45,14.75,15.0],
 [12.75,13.05,13.35,13.65,13.95,14.25,14.55,14.85],
 [12.85,13.15,13.45,13.75,14.05,14.35,14.65,14.9],
]
D_CORE2_Y = [10.27, 10.52, 10.77, 11.02, 11.27, 11.52, 11.77, 12.02, 12.27, 12.52, 12.77, 13.02,
             13.27, 13.52, 13.77, 14.02, 14.27, 14.52, 14.77, 15.02, 15.27, 15.52, 15.77, 16.02,
             16.27, 16.52, 16.77, 17.02, 17.27, 17.52, 17.77, 18.02, 18.27, 18.52, 18.77, 19.02,
             19.27, 19.52, 19.77, 20.02, 20.27, 20.52, 20.77, 21.02, 21.27, 21.52, 21.77, 22.02,
             22.27, 22.52, 22.77, 23.02, 23.27, 23.52, 23.77, 24.02, 24.27, 24.52, 24.77, 25.02,
             25.27, 25.52, 25.77, 26.02, 26.27, 26.52, 26.77, 27.02, 27.27, 27.52, 27.77, 28.02,
             28.27, 28.52, 28.77, 29.02, 29.27, 29.52, 29.77]
D_CORE2_X = [
 [11.37,11.67,11.97,12.27,12.57,12.87,13.17,13.47],
 [11.27,11.57,11.87,12.17,12.47,12.77,13.07,13.37,13.62],
 [11.22,11.52,11.82,12.12,12.42,12.72,13.02,13.32,13.62],
 [11.27,11.57,11.87,12.17,12.47,12.77,13.07,13.37,13.67],
 [11.32,11.62,11.92,12.22,12.52,12.82,13.12,13.42,13.72],
 [11.27,11.57,11.87,12.17,12.47,12.77,13.07,13.37,13.67],
 [11.42,11.72,12.02,12.32,12.62,12.92,13.22,13.52,13.8],
 [11.47,11.77,12.07,12.37,12.67,12.97,13.27,13.57,13.82],
 [11.62,11.92,12.22,12.52,12.82,13.12,13.42,13.72],
 [11.67,11.97,12.27,12.57,12.87,13.17,13.47,13.77],
 [11.82,12.12,12.42,12.72,13.02,13.32,13.62,13.9],
 [11.87,12.17,12.47,12.77,13.07,13.37,13.67,13.92],
 [11.97,12.27,12.57,12.87,13.17,13.47,13.77],
 [12.07,12.37,12.67,12.97,13.27,13.57,13.87],
 [12.12,12.42,12.72,13.02,13.32,13.62,13.92],
 [12.22,12.52,12.82,13.12,13.42,13.72,14.02],
 [12.32,12.62,12.92,13.22,13.52,13.82,14.1],
 [12.37,12.67,12.97,13.27,13.57,13.87,14.15],
 [12.52,12.82,13.12,13.42,13.72,14.02],
 [12.57,12.87,13.17,13.47,13.77,14.07],
 [12.62,12.92,13.22,13.52,13.82,14.12],
 [12.67,12.97,13.27,13.57,13.87,14.17],
 [12.72,13.02,13.32,13.62,13.92,14.22],
 [12.82,13.12,13.42,13.72,14.02,14.32],
 [12.77,13.07,13.37,13.67,13.97,14.27],
 [12.87,13.17,13.47,13.77,14.07,14.37],
 [12.82,13.12,13.42,13.72,14.02,14.32],
 [12.87,13.17,13.47,13.77,14.07,14.37],
 [12.82,13.12,13.42,13.72,14.02,14.32,14.52],
 [12.87,13.17,13.47,13.77,14.07,14.37],
 [12.82,13.12,13.42,13.72,14.02,14.32,14.57],
 [12.87,13.17,13.47,13.77,14.07,14.37],
 [12.82,13.12,13.42,13.72,14.02,14.32,14.62],
 [12.87,13.17,13.47,13.77,14.07,14.37],
 [12.82,13.12,13.42,13.72,14.02,14.32,14.67],
 [12.77,13.07,13.37,13.67,13.97,14.27,14.57],
 [12.72,13.02,13.32,13.62,13.92,14.22,14.52],
 [12.67,12.97,13.27,13.57,13.87,14.17,14.47,14.77],
 [12.62,12.92,13.22,13.52,13.82,14.12,14.42,14.77],
 [12.57,12.87,13.17,13.47,13.77,14.07,14.37,14.67],
 [12.52,12.82,13.12,13.42,13.72,14.02,14.32,14.62,14.87],
 [12.42,12.72,13.02,13.32,13.62,13.92,14.22,14.52,14.82],
 [12.37,12.67,12.97,13.27,13.57,13.87,14.17,14.47,14.77],
 [12.32,12.62,12.92,13.22,13.52,13.82,14.12,14.42,14.72,14.92],
 [12.27,12.57,12.87,13.17,13.47,13.77,14.07,14.37,14.67,14.97],
 [12.22,12.52,12.82,13.12,13.42,13.72,14.02,14.32,14.62,14.92],
 [12.22,12.52,12.82,13.12,13.42,13.72,14.02,14.32,14.62,14.92,15.07],
 [12.27,12.57,12.87,13.17,13.47,13.77,14.07,14.37,14.67,14.97],
 [12.22,12.52,12.82,13.12,13.42,13.72,14.02,14.32,14.62,14.92,15.17],
 [12.27,12.57,12.87,13.17,13.47,13.77,14.07,14.37,14.67,14.97,15.22],
 [12.22,12.52,12.82,13.12,13.42,13.72,14.02,14.32,14.62,14.92,15.22],
 [12.27,12.57,12.87,13.17,13.47,13.77,14.07,14.37,14.67,14.97,15.27],
 [12.17,12.47,12.77,13.07,13.37,13.67,13.97,14.27,14.57,14.87,15.17],
 [12.12,12.42,12.72,13.02,13.32,13.62,13.92,14.22,14.52,14.82,15.12],
 [12.07,12.37,12.67,12.97,13.27,13.57,13.87,14.17,14.47,14.77,15.07],
 [12.02,12.32,12.62,12.92,13.22,13.52,13.82,14.12,14.42,14.72,15.02,15.27],
 [12.07,12.37,12.67,12.97,13.27,13.57,13.87,14.17,14.47,14.77,15.07],
 [11.92,12.22,12.52,12.82,13.12,13.42,13.72,14.02,14.32,14.62,14.92,15.22],
 [11.97,12.27,12.57,12.87,13.17,13.47,13.77,14.07,14.37,14.67,14.97,15.27],
 [11.87,12.17,12.47,12.77,13.07,13.37,13.67,13.97,14.27,14.57,14.87,15.17],
 [11.92,12.22,12.52,12.82,13.12,13.42,13.72,14.02,14.32,14.62,14.92,15.22],
 [12.02,12.32,12.62,12.92,13.22,13.52,13.82,14.12,14.42,14.72,15.02,15.27],
 [12.12,12.42,12.72,13.02,13.32,13.62,13.92,14.22,14.52,14.82,15.12],
 [12.22,12.52,12.82,13.12,13.42,13.72,14.02,14.32,14.62,14.92,15.22],
 [12.32,12.62,12.92,13.22,13.52,13.82,14.12,14.42,14.72,15.02],
 [12.42,12.72,13.02,13.32,13.62,13.92,14.22,14.52,14.82,15.12],
 [12.52,12.82,13.12,13.42,13.72,14.02,14.32,14.62,14.92],
 [12.62,12.92,13.22,13.52,13.82,14.12,14.42,14.72,15.02],
 [12.72,13.02,13.32,13.62,13.92,14.22,14.52,14.82,15.07],
 [12.77,13.07,13.37,13.67,13.97,14.27,14.57,14.87],
 [12.87,13.17,13.47,13.77,14.07,14.37,14.67,14.97],
 [12.92,13.22,13.52,13.82,14.12,14.42,14.72,15.02],
 [12.82,13.12,13.42,13.72,14.02,14.32,14.62,14.92],
 [12.77,13.07,13.37,13.67,13.97,14.27,14.57,14.87,15.07],
 [12.67,12.97,13.27,13.57,13.87,14.17,14.47,14.77,15.02],
 [12.62,12.92,13.22,13.52,13.82,14.12,14.42,14.72,15.02],
 [12.67,12.97,13.27,13.57,13.87,14.17,14.47,14.77,15.0],
 [12.72,13.02,13.32,13.62,13.92,14.22,14.52,14.82],
 [12.82,13.12,13.42,13.72,14.02,14.32,14.62,14.87],
]

# ---------------- figure ----------------
W, H, DPI = 2773, 3040, 200
fig = plt.figure(figsize=(W / DPI, H / DPI), dpi=DPI)
fig.patch.set_facecolor('white')


def px_axes(l, t, r, b):
    return fig.add_axes([l / W, 1 - b / H, (r - l) / W, (b - t) / H])


def flatten_rows(ys, xrows):
    assert len(ys) == len(xrows), (len(ys), len(xrows))
    xs, yy = [], []
    for y, row in zip(ys, xrows):
        xs.extend(row)
        yy.extend([y] * len(row))
    return np.array(xs, dtype=float), np.array(yy, dtype=float)


def pts_xy(points):
    arr = np.array(points, dtype=float)
    return arr[:, 0], arr[:, 1]


ax_x, ax_y = pts_xy(A_POINTS)
bx, by = pts_xy(B_POINTS)
b1x, b1y = flatten_rows(B_CORE_Y, B_CORE_X)
b2x, b2y = flatten_rows(B_CORE2_Y, B_CORE2_X)
bx = np.concatenate([b1x, b2x, bx]); by = np.concatenate([b1y, b2y, by])
cx, cy = pts_xy(C_POINTS)
dx, dy = pts_xy(D_POINTS)
d1x, d1y = flatten_rows(D_CORE_Y, D_CORE_X)
d2x, d2y = flatten_rows(D_CORE2_Y, D_CORE2_X)
dx = np.concatenate([d1x, d2x, dx]); dy = np.concatenate([d1y, d2y, dy])

panels = [
    dict(rect=(348, 233, 1253, 1170), x=ax_x, y=ax_y, lim=(0, 12), minor=0.4,
         ticks=SHALLOW_TICKS, alpha=0.45, title_xy=(31, 69), xl=(843, 1402), yl=(132, 696)),
    dict(rect=(1763, 233, 2677, 1170), x=bx, y=by, lim=(10, 30), minor=1,
         ticks=DEEP_TICKS, alpha=0.55, title_xy=(1444, 69), xl=(2258, 1402), yl=(1545, 696)),
    dict(rect=(348, 1800, 1253, 2737), x=cx, y=cy, lim=(0, 12), minor=0.4,
         ticks=SHALLOW_TICKS, alpha=0.45, title_xy=(31, 1636), xl=(843, 2969), yl=(132, 2263)),
    dict(rect=(1764, 1800, 2677, 2737), x=dx, y=dy, lim=(10, 30), minor=1,
         ticks=DEEP_TICKS, alpha=0.45, title_xy=(1444, 1636), xl=(2258, 2969), yl=(1545, 2263)),
]

RING = '#555555'
for p, title in zip(panels, TITLES):
    ax = px_axes(*p['rect'])
    lo, hi = p['lim']
    ax.scatter(p['x'], p['y'], s=190, facecolors='none', edgecolors=RING,
               linewidths=1.15, alpha=p['alpha'], clip_on=False, zorder=2)
    ax.plot([lo, hi], [lo, hi], color='#333333', lw=0.9, zorder=3, solid_capstyle='butt')
    ax.set_xlim(lo, hi)
    ax.set_ylim(lo, hi)
    ax.set_xticks(p['ticks'])
    ax.set_yticks(p['ticks'])
    ax.xaxis.set_minor_locator(MultipleLocator(p['minor']))
    ax.yaxis.set_minor_locator(MultipleLocator(p['minor']))
    for s in ('top', 'right'):
        ax.spines[s].set_visible(False)
    for s in ('left', 'bottom'):
        ax.spines[s].set_linewidth(1.1)
        ax.spines[s].set_color('black')
        ax.spines[s].set_zorder(4)
    ax.tick_params(which='major', direction='out', length=10, width=1.1, labelsize=26, color='black')
    ax.tick_params(which='minor', direction='out', length=8, width=1.1, color='black')
    ax.tick_params(axis='y', which='major', pad=18)
    ax.tick_params(axis='x', which='major', pad=15)
    ax.set_facecolor('none')

    tx, ty = p['title_xy']
    fig.text(tx / W, 1 - ty / H, title, ha='left', va='center', fontsize=28)
    xlx, xly = p['xl']
    fig.text(xlx / W, 1 - xly / H, XLABEL, ha='center', va='center', fontsize=28, fontweight='bold')
    ylx, yly = p['yl']
    fig.text(ylx / W, 1 - yly / H, YLABEL, ha='center', va='center', fontsize=28,
             fontweight='bold', rotation=90)

fig.savefig('out.png', dpi=DPI, facecolor='white')
